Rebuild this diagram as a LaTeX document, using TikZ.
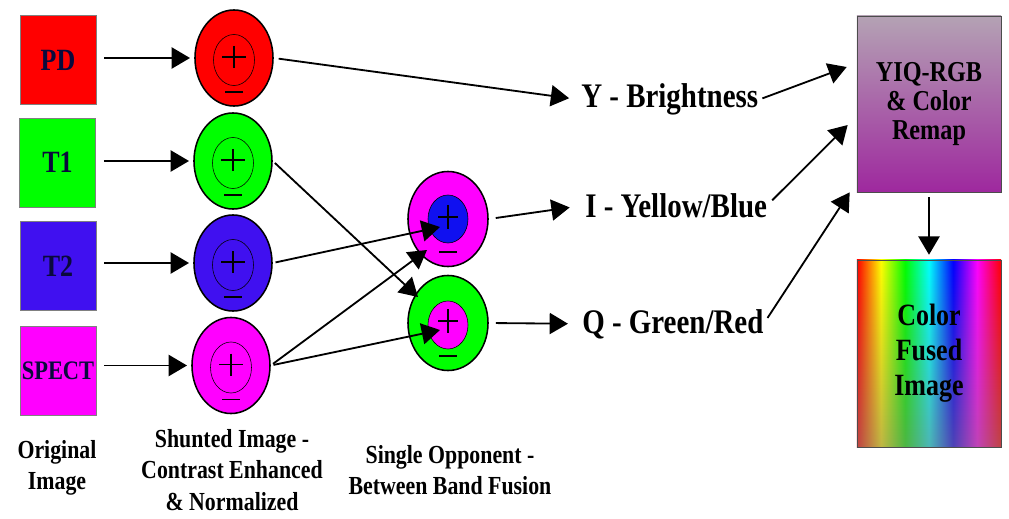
\documentclass[tikz,border=0pt]{standalone}
\usepackage{fontspec}
\setmainfont{Liberation Serif}[FakeStretch=0.84]
\usetikzlibrary{shapes.geometric, arrows.meta, positioning, calc, fadings}
\usepackage{xcolor}
\definecolor{pdred}{RGB}{255, 0, 0}
\definecolor{tonegreen}{RGB}{0, 255, 0}
\definecolor{ttwoblue}{RGB}{64, 16, 240}
\definecolor{spectpink}{RGB}{255, 0, 255}
\definecolor{oppblue}{RGB}{16, 16, 240}
\definecolor{labelnavy}{RGB}{10, 10, 60}
\definecolor{remaptop}{RGB}{180, 162, 180}
\definecolor{remapbot}{RGB}{158, 40, 158}
\definecolor{fadegray}{RGB}{140, 122, 122}
\pgfdeclarehorizontalshading{rainbow}{100bp}{color(0bp)=(red); color(25bp)=(red); color(33.33bp)=(yellow); color(41.67bp)=(green); color(50bp)=(cyan); color(58.33bp)=(blue); color(66.67bp)=(magenta); color(75bp)=(red); color(100bp)=(red)}
\tikzfading[name=fadebottom, top color=transparent!100, middle color=transparent!80, bottom color=transparent!45]
\tikzstyle{imgbox} = [rectangle, minimum width=1.9cm, minimum height=2.225cm, inner sep=0pt, draw=gray, thin, text=labelnavy, font=\bfseries\fontsize{22}{24}\selectfont]
\tikzstyle{shunt} = [ellipse, minimum width=1.95cm, minimum height=2.4cm, inner sep=0pt, draw=black, line width=1.1pt]
\tikzstyle{core} = [ellipse, minimum width=1.025cm, minimum height=1.275cm, inner sep=0pt, draw=black, thin]
\tikzstyle{opp} = [ellipse, minimum width=2cm, minimum height=2.375cm, inner sep=0pt, draw=black, line width=1.1pt]
\tikzstyle{oppcore} = [ellipse, minimum width=1cm, minimum height=1.2cm, inner sep=0pt, draw=black, thin]
\tikzstyle{chan} = [inner sep=0pt, anchor=base west, font=\bfseries\fontsize{24.5}{28}\selectfont]
\tikzstyle{stagetext} = [inner sep=0pt, align=center, font=\bfseries\fontsize{18.5}{22.5}\selectfont]
\tikzstyle{remap} = [rectangle, minimum width=3.6cm, minimum height=4.4cm, inner sep=0pt, draw=gray!60!black, top color=remaptop, bottom color=remapbot, align=center, font=\bfseries\fontsize{20.5}{20.5}\selectfont]
\tikzstyle{fused} = [rectangle, minimum width=3.6cm, minimum height=4.675cm, inner sep=0pt, draw=gray!60!black, shading=rainbow, align=center, font=\bfseries\fontsize{22}{25}\selectfont,
  path picture={\fill[fadegray, path fading=fadebottom] (path picture bounding box.south west) rectangle (path picture bounding box.north east);}]
\tikzstyle{arrow} = [line width=1.3pt, -{Triangle[length=13pt, width=15pt]}]
\tikzstyle{sign} = [line width=1.2pt]

\begin{document}
\begin{tikzpicture}[x=0.025cm, y=-0.025cm]
    \useasboundingbox (0,0) rectangle (1009,519);

    % original images
    \node (pd) [imgbox, fill=pdred] at (58,60) {PD};
    \node (tone) [imgbox, fill=tonegreen] at (57.5,162.5) {T1};
    \node (ttwo) [imgbox, fill=ttwoblue] at (58,266) {T2};
    \node (spect) [imgbox, fill=spectpink, font=\bfseries\fontsize{19}{21}\selectfont] at (58,370.5) {SPECT};

    % shunted images
    \node (shpd) [shunt, fill=pdred] at (234,58) {};
    \node (shtone) [shunt, fill=tonegreen] at (233,161) {};
    \node (shttwo) [shunt, fill=ttwoblue] at (233,263) {};
    \node (shspect) [shunt, fill=spectpink] at (231,365.5) {};
    \foreach \n in {shpd,shtone,shttwo,shspect} {
        \node (\n core) [core] at ($(\n)+(0,2)$) {};
        \draw[sign] ($(\n)+(-12,-1)$) -- ($(\n)+(12,-1)$);
        \draw[sign] ($(\n)+(0,-12)$) -- ($(\n)+(0,10)$);
        \draw[sign] ($(\n)+(-9,34)$) -- ($(\n)+(9,34)$);
    }

    % single opponent
    \node (opb) [opp, fill=spectpink] at (448,219) {};
    \node (opbin) [oppcore, fill=oppblue] at (448,219) {};
    \node (opg) [opp, fill=tonegreen] at (448,323) {};
    \node (opgin) [oppcore, fill=spectpink] at (448,325) {};
    \foreach \n in {opb,opg} {
        \draw[sign] ($(\n)+(-10,-2)$) -- ($(\n)+(10,-2)$);
        \draw[sign] ($(\n)+(0,-14)$) -- ($(\n)+(0,10)$);
        \draw[sign] ($(\n)+(-9,33)$) -- ($(\n)+(9,33)$);
    }

    % YIQ channels
    \node (ybr) [chan] at (581,108) {Y - Brightness};
    \node (ibl) [chan] at (585,217) {I - Yellow/Blue};
    \node (qgr) [chan] at (582,333) {Q - Green/Red};

    % output boxes
    \node (yiq) [remap] at (929,104) {YIQ-RGB\\\& Color\\Remap};
    \node (cfi) [fused] at (929,353.5) {Color\\Fused\\Image};

    % stage captions
    \node (capo) [stagetext] at (57,468) {Original\\Image};
    \node (caps) [stagetext] at (232,470) {Shunted Image -\\Contrast Enhanced\\\& Normalized};
    \node (capb) [stagetext] at (450,470) {Single Opponent -\\Between Band Fusion};

    \draw [arrow, shorten <=5.7pt, shorten >=3pt] (pd.east |- shpd) -- (shpd.west);
    \draw [arrow, shorten <=5.7pt, shorten >=3pt] (tone.east |- shtone) -- (shtone.west);
    \draw [arrow, shorten <=5.7pt, shorten >=3pt] (ttwo.east |- shttwo) -- (shttwo.west);
    \draw [arrow, shorten <=5.7pt, shorten >=3pt] (spect.east |- shspect) -- (shspect.west);

    \draw [arrow, shorten <=3.5pt, shorten >=8.5pt] (shpd.east) -- (ybr.west);
    \draw [arrow, shorten <=2pt] (shtone.east) -- ($(opg)+(-30,-26)$);
    \draw [arrow, shorten <=2pt] (shttwo.east) -- ($(opbin)+(-8,8)$);
    \draw [arrow, shorten <=2pt] (shspect.east) -- ($(opb)+(-21,31)$);
    \draw [arrow, shorten <=2pt] (shspect.east) -- ($(opgin)+(-8,5)$);

    \draw [arrow, shorten <=5pt, shorten >=11pt] (opb.east) -- (ibl.west);
    \draw [arrow, shorten <=5pt, shorten >=10pt] (opg.east) -- (qgr.west);

    \draw [arrow, shorten <=3pt] (ybr.east) -- ($(yiq.west)+(-10,-37)$);
    \draw [arrow, shorten <=5pt] (ibl.east) -- ($(yiq.west)+(-9,21)$);
    \draw [arrow, shorten <=5pt] (qgr.east) -- ($(yiq.south west)+(-7,0)$);
    \draw [arrow, shorten <=3.5pt, shorten >=3.5pt] (yiq.south) -- (cfi.north);
\end{tikzpicture}
\end{document}
